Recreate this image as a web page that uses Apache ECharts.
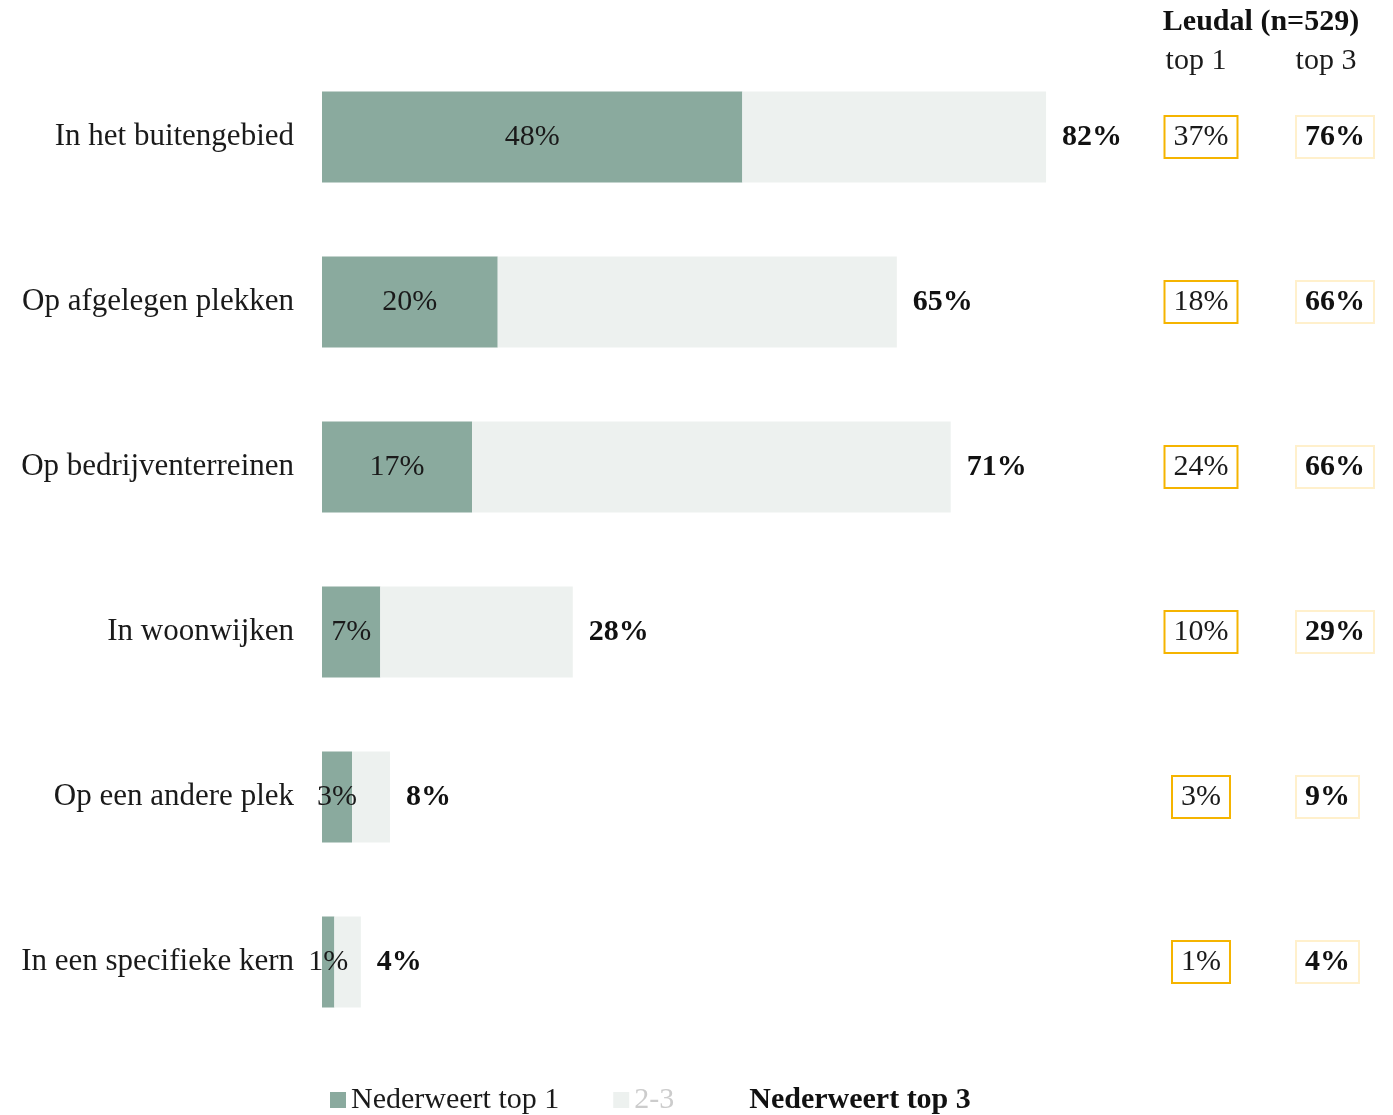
<!DOCTYPE html>
<html>
<head>
<meta charset="utf-8">
<script src="https://cdn.jsdelivr.net/npm/echarts@6/dist/echarts.min.js"></script>
<style>html,body{margin:0;padding:0;background:#fff;}#c{width:1393px;height:1115px;}</style>
</head>
<body>
<div id="c"></div>
<script>
const categories = ["In het buitengebied","Op afgelegen plekken","Op bedrijventerreinen","In woonwijken","Op een andere plek","In een specifieke kern"];
const top1 = [47.6, 19.9, 17.0, 6.6, 3.4, 1.4];
const top3 = [82.0, 65.1, 71.2, 28.4, 7.7, 4.4];
const leudalTop1 = [37, 18, 24, 10, 3, 1];
const leudalTop3 = [76, 66, 66, 29, 9, 4];
const rest = top3.map((v, i) => +(v - top1[i]).toFixed(1));

const FONT = '"Liberation Serif", "DejaVu Serif", serif';
const FS = 30;
const chart = echarts.init(document.getElementById('c'), null, {renderer: 'canvas'});

const option = {
  animation: false,
  backgroundColor: '#fff',
  textStyle: {fontFamily: FONT},
  grid: {left: 322, right: 188, top: 54.5, bottom: 70.5, containLabel: false},
  xAxis: {type: 'value', min: 0, max: 100, show: false},
  yAxis: {
    type: 'category', data: categories, inverse: true,
    axisLine: {show: false}, axisTick: {show: false},
    axisLabel: {margin: 28, fontSize: 31, color: '#1a1a1a', fontFamily: FONT}
  },
  legend: {
    left: 325, top: 1080, itemWidth: 16, itemHeight: 16, itemGap: 54,
    textStyle: {fontSize: FS, fontFamily: FONT, color: '#1a1a1a'},
    data: [
      {name: 'Nederweert top 1', icon: 'rect'},
      {name: '2-3', icon: 'rect', textStyle: {color: '#cccccc'}},
      {name: 'Nederweert top 3', icon: 'none', textStyle: {fontWeight: 'bold', color: '#111'}}
    ]
  },
  series: [
    {
      name: 'Nederweert top 1', type: 'bar', stack: 'a', barWidth: 91,
      itemStyle: {color: '#8AAA9E'},
      label: {show: true, position: 'inside', fontSize: FS, fontFamily: FONT, color: '#1a1a1a', formatter: p => Math.round(p.value) + '%'},
      data: top1
    },
    {
      name: '2-3', type: 'bar', stack: 'a', barWidth: 91,
      itemStyle: {color: '#EDF1EF'},
      label: {show: true, position: 'right', distance: 16, fontSize: FS, fontFamily: FONT, fontWeight: 'bold', color: '#111',
        formatter: p => Math.round(top3[p.dataIndex]) + '%'},
      data: rest
    },
    {name: 'Nederweert top 3', type: 'line', data: [], itemStyle: {color: '#fff'}}
  ]
};
chart.setOption(option);

const g = [];
g.push({type: 'text', x: 1261, y: 22, style: {text: 'Leudal (n=529)', font: 'bold 30px ' + FONT, fill: '#111', align: 'center', verticalAlign: 'middle'}});
g.push({type: 'text', x: 1196, y: 61, style: {text: 'top 1', font: '30px ' + FONT, fill: '#1a1a1a', align: 'center', verticalAlign: 'middle'}});
g.push({type: 'text', x: 1326, y: 61, style: {text: 'top 3', font: '30px ' + FONT, fill: '#1a1a1a', align: 'center', verticalAlign: 'middle'}});
categories.forEach((c, i) => {
  const y = chart.convertToPixel({yAxisIndex: 0}, c);
  g.push({type: 'text', x: 1201, y: y, style: {
    text: leudalTop1[i] + '%', font: '30px ' + FONT, fill: '#1a1a1a', align: 'center', verticalAlign: 'middle',
    borderColor: '#F5B400', borderWidth: 2, padding: [5, 8, 5, 8], backgroundColor: '#fff'}});
  g.push({type: 'text', x: 1297, y: y, style: {
    text: leudalTop3[i] + '%', font: 'bold 30px ' + FONT, fill: '#111', align: 'left', verticalAlign: 'middle',
    borderColor: '#FFF0CC', borderWidth: 2, padding: [5, 8, 5, 8], backgroundColor: '#fff'}});
});
chart.setOption({graphic: g});
</script>
</body>
</html>
